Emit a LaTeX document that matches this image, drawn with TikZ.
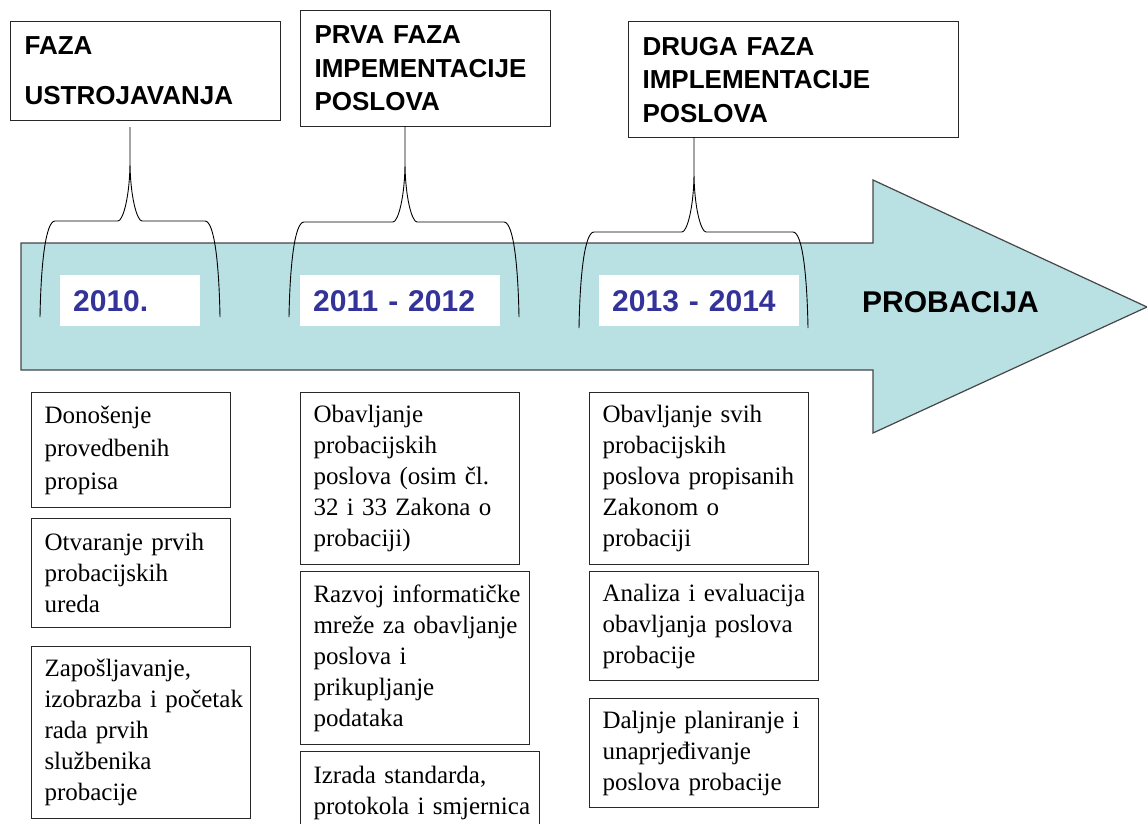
\documentclass[tikz,border=0pt]{standalone}
\usepackage{fontspec}
\setmainfont{Liberation Serif}
\newfontfamily\arialfont{Liberation Sans}
\definecolor{bandfill}{RGB}{185,224,227}
\definecolor{bandline}{RGB}{70,70,70}
\definecolor{yearblue}{RGB}{51,51,153}
\definecolor{boxline}{RGB}{40,40,40}
\newcommand\phasebrace[6]{%
  \draw[bracestyle] (#4,#6) .. controls ({#4+1},{#3+40}) and ({#4+6},#3) .. ({#4+15},#3)
    -- ({#1-12},#3) .. controls ({#1-7},#3) and (#1,{#3-25}) .. (#1,{#3-60}) -- (#1,#2)
    (#1,{#3-60}) .. controls (#1,{#3-25}) and ({#1+7},#3) .. ({#1+12},#3) -- ({#5-15},#3)
    .. controls ({#5-6},#3) and ({#5-1},{#3+40}) .. (#5,#6);}
\begin{document}
\begin{tikzpicture}[x=1pt,y=-1pt,
  bracestyle/.style={draw=black, line width=0.9pt},
  phasebox/.style={draw=boxline, line width=1.1pt, anchor=north west, inner xsep=14pt, inner ysep=0pt,
    align=left, font=\arialfont\bfseries\fontsize{26}{33.5}\selectfont},
  yearbox/.style={fill=white, anchor=north west, inner xsep=13pt, inner ysep=0pt, minimum height=51pt,
    align=left, text=yearblue, font=\arialfont\bfseries\fontsize{30}{36}\selectfont},
  itembox/.style={draw=boxline, line width=1pt, anchor=north west, inner xsep=13pt, inner ysep=0pt,
    align=left, font=\fontsize{25}{31}\selectfont}]
\useasboundingbox (0,0) rectangle (1147,823);
\clip (0,0) rectangle (1147,823);

% timeline arrow
\draw[fill=bandfill, draw=bandline, line width=1.2pt, line join=miter]
  (21,243) -- (873,243) -- (873,180) -- (1147,307) -- (873,433) -- (873,370) -- (21,370) -- cycle;

% year labels
\node[yearbox, text width=114pt] (y1) at (60,275) {2010.};
\node[yearbox, text width=174pt] (y2) at (300,275) {2011 - 2012};
\node[yearbox, text width=174pt] (y3) at (599,275) {2013 - 2014};
\node[anchor=base west, inner sep=0pt, font=\arialfont\bfseries\fontsize{30}{36}\selectfont] (prob) at (862,312) {PROBACIJA};

% phase boxes
\node[phasebox, text width=242pt, minimum height=99pt, font=\arialfont\bfseries\fontsize{26}{50}\selectfont] (p1) at (10,21) {FAZA\\USTROJAVANJA};
\node[phasebox, text width=222pt, minimum height=116pt] (p2) at (300,10) {PRVA FAZA\\IMPEMENTACIJE\\POSLOVA};
\node[phasebox, text width=302pt, minimum height=116pt] (p3) at (628,21) {DRUGA FAZA\\IMPLEMENTACIJE\\POSLOVA};

% braces
\phasebrace{130}{127}{221}{40}{220}{317}
\phasebrace{405}{126}{222}{289}{519}{317}
\phasebrace{694}{137}{232}{579}{808}{328}

% activity boxes
\node[itembox, text width=173pt, minimum height=115pt, font=\fontsize{25}{33}\selectfont] (a1) at (31,392) {Donošenje\\provedbenih\\propisa};
\node[itembox, text width=173pt, minimum height=109pt] (a2) at (31,518) {Otvaranje prvih\\probacijskih\\ureda};
\node[itembox, text width=193pt, minimum height=172pt] (a3) at (31,646) {Zapošljavanje,\\\mbox{izobrazba i početak}\\rada prvih\\službenika\\probacije};

\node[itembox, text width=193pt, minimum height=172pt] (b1) at (300,392) {Obavljanje\\probacijskih\\\mbox{poslova (osim čl.}\\\mbox{32 i 33 Zakona o}\\probaciji)};
\node[itembox, text width=203pt, minimum height=173pt] (b2) at (300,571) {\mbox{Razvoj informatičke}\\\mbox{mreže za obavljanje}\\poslova i\\prikupljanje\\podataka};
\node[itembox, text width=213pt, minimum height=82pt] (b3) at (300,751) {\mbox{Izrada standarda,}\\\mbox{protokola i smjernica}};

\node[itembox, text width=193pt, minimum height=172pt] (c1) at (589,392) {\mbox{Obavljanje svih}\\probacijskih\\\mbox{poslova propisanih}\\Zakonom o\\probaciji};
\node[itembox, text width=203pt, minimum height=109pt] (c2) at (589,571) {\mbox{Analiza i evaluacija}\\\mbox{obavljanja poslova}\\probacije};
\node[itembox, text width=203pt, minimum height=109pt] (c3) at (589,698) {\mbox{Daljnje planiranje i}\\unaprjeđivanje\\\mbox{poslova probacije}};
\end{tikzpicture}
\end{document}
